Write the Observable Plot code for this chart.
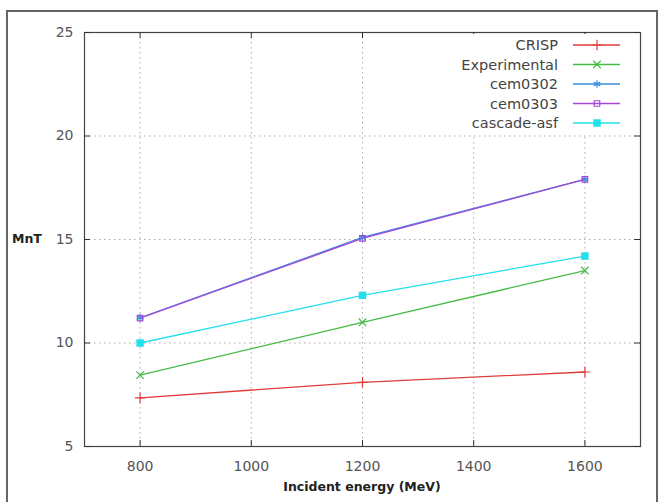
<!DOCTYPE html>
<html>
<head>
<meta charset="utf-8">
<script src="https://cdn.jsdelivr.net/npm/d3@7"></script>
<script src="https://cdn.jsdelivr.net/npm/@observablehq/plot@0.6"></script>
<style>
  html, body { margin: 0; padding: 0; background: #fff; }
  #wrap { position: relative; width: 665px; height: 502px; overflow: hidden; }
  #border { position: absolute; left: 6px; top: 10px; width: 652px; height: 500px; border: 2px solid #666; box-sizing: border-box; }
  #chart { position: absolute; left: 0; top: 0; }
</style>
</head>
<body>
<div id="wrap"><div id="border"></div><div id="chart"></div></div>
<script>
const energies = [800, 1200, 1600];
const seriesNames = ["CRISP", "Experimental", "cem0302", "cem0303", "cascade-asf"];
const crisp = [7.35, 8.1, 8.6];
const experimental = [8.45, 11.0, 13.5];
const cem0302 = [11.22, 15.1, 17.9];
const cem0303 = [11.2, 15.05, 17.9];
const cascadeAsf = [10.0, 12.3, 14.2];
const xTicks = [800, 1000, 1200, 1400, 1600];
const yTicks = [5, 10, 15, 20, 25];
const yGrid = [10, 15, 20];
const colors = ["#e03c3c", "#44bb44", "#3a8ddc", "#a448d8", "#22e0ea"];
const symbols = ["plus", "times", "asterisk", "square2", "square"];
const xLabel = "Incident energy (MeV)";
const yLabel = "MnT";

const seriesValues = [crisp, experimental, cem0302, cem0303, cascadeAsf];
const data = [];
seriesNames.forEach((s, i) => energies.forEach((e, j) => data.push({series: s, energy: e, value: seriesValues[i][j]})));

const W = 665, H = 502, mL = 84, mR = 25, mT = 32, mB = 56;
const innerH = H - mT - mB, innerW = W - mL - mR;
const font = "DejaVu Sans, sans-serif";

const plot = Plot.plot({
  width: W, height: H,
  marginLeft: mL, marginRight: mR, marginTop: mT, marginBottom: mB,
  style: {fontFamily: font, fontSize: "14px", color: "#555", background: "transparent"},
  x: {domain: [700, 1700]},
  y: {domain: [5, 25]},
  color: {domain: seriesNames, range: colors},
  symbol: {domain: seriesNames, range: symbols},
  marks: [
    Plot.ruleX(xTicks, {x: d => d, stroke: "#aaa", strokeWidth: 1, strokeDasharray: "1.5,3.5"}),
    Plot.ruleY(yGrid, {y: d => d, stroke: "#aaa", strokeWidth: 1, strokeDasharray: "1.5,3.5"}),
    Plot.frame({stroke: "#444", strokeWidth: 1.2}),
    Plot.tickX(xTicks, {x: d => d, insetTop: innerH - 6, stroke: "#333"}),
    Plot.tickX(xTicks, {x: d => d, insetBottom: innerH - 6, stroke: "#333"}),
    Plot.tickY(yTicks, {y: d => d, insetRight: innerW - 6, stroke: "#333"}),
    Plot.tickY(yTicks, {y: d => d, insetLeft: innerW - 6, stroke: "#333"}),
    Plot.axisX({ticks: xTicks, tickSize: 0, tickPadding: 15, label: null, tickFormat: d => String(d)}),
    Plot.axisY({ticks: yTicks, tickSize: 0, tickPadding: 11, label: null, tickFormat: d => String(d)}),
    Plot.line(data, {x: "energy", y: "value", z: "series", stroke: "series", strokeWidth: 1.3}),
    Plot.dot(data.filter(d => d.series !== "cascade-asf"), {x: "energy", y: "value", stroke: "series", symbol: "series", fill: "none", r: 3.5, strokeWidth: 1.2}),
    Plot.dot(data.filter(d => d.series === "cascade-asf"), {x: "energy", y: "value", fill: "series", symbol: "series", r: 4.2})
  ]
});

const svg = d3.select(plot);
// axis titles
svg.append("text").attr("x", 12).attr("y", 243).attr("text-anchor", "start").attr("font-family", font).attr("font-weight", "bold")
  .attr("font-size", 12.5).attr("fill", "#222").text(yLabel);
svg.append("text").attr("x", 362).attr("y", 491).attr("text-anchor", "middle").attr("font-family", font)
  .attr("font-weight", "bold").attr("font-size", 12.5).attr("fill", "#222").text(xLabel);

// legend
const lg = svg.append("g");
lg.append("rect").attr("x", 440).attr("y", 34).attr("width", 196).attr("height", 100).attr("fill", "#fff");
const symMap = {plus: d3.symbolPlus, times: d3.symbolTimes, asterisk: d3.symbolAsterisk, square2: d3.symbolSquare2, square: d3.symbolSquare};
seriesNames.forEach((s, i) => {
  const y = 45 + i * 19.5;
  lg.append("text").attr("x", 558).attr("y", y).attr("dy", "0.36em").attr("text-anchor", "end")
    .attr("font-family", font).attr("font-size", 14.5).attr("fill", "#444").text(s);
  lg.append("line").attr("x1", 573).attr("x2", 620).attr("y1", y).attr("y2", y)
    .attr("stroke", colors[i]).attr("stroke-width", 1.3);
  const filled = symbols[i] === "square";
  const r = filled ? 4.2 : 3.5;
  lg.append("path").attr("transform", `translate(597,${y})`)
    .attr("d", d3.symbol(symMap[symbols[i]], Math.PI * r * r)())
    .attr("fill", filled ? colors[i] : "none").attr("stroke", filled ? "none" : colors[i]).attr("stroke-width", 1.2);
});

document.getElementById("chart").appendChild(plot);
</script>
</body>
</html>
